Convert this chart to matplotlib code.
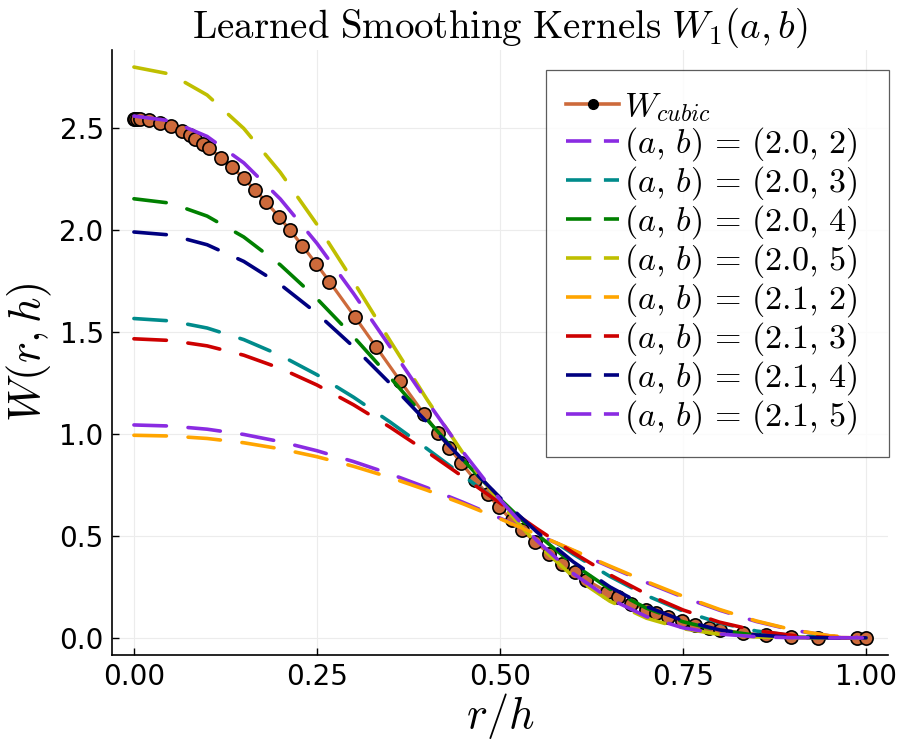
import numpy as np
import matplotlib
matplotlib.use('Agg')
import matplotlib.pyplot as plt
from matplotlib.lines import Line2D

plt.rcParams['mathtext.fontset'] = 'cm'
plt.rcParams['font.family'] = ['DejaVu Sans']

# cubic kernel samples (r/h, W)
r_cubic = [0.000, 0.002, 0.004, 0.008, 0.021, 0.036, 0.051, 0.066, 0.076, 0.084, 0.094, 0.103,
           0.119, 0.134, 0.150, 0.166, 0.181, 0.198, 0.213, 0.230, 0.249, 0.267, 0.302,
           0.331, 0.364, 0.396, 0.415, 0.431, 0.447, 0.466, 0.483, 0.499, 0.516, 0.530,
           0.548, 0.567, 0.585, 0.602, 0.617, 0.646, 0.661, 0.679, 0.700, 0.713, 0.730,
           0.748, 0.767, 0.785, 0.801, 0.832, 0.864, 0.898, 0.935, 0.987, 1.000]
w_cubic = [2.5465, 2.5464, 2.5462, 2.5455, 2.5399, 2.5274, 2.5088, 2.4843, 2.4649, 2.4477, 2.4242, 2.4011,
           2.3559, 2.3089, 2.2543, 2.1953, 2.1365, 2.0661, 2.0010, 1.9241, 1.8350, 1.7481, 1.5738,
           1.4266, 1.2590, 1.0993, 1.0071, 0.9315, 0.8583, 0.7747, 0.7037, 0.6404, 0.5774, 0.5288,
           0.4703, 0.4135, 0.3640, 0.3211, 0.2861, 0.2259, 0.1984, 0.1685, 0.1375, 0.1204, 0.1002,
           0.0815, 0.0644, 0.0506, 0.0401, 0.0241, 0.0128, 0.0054, 0.0014, 0.0000, 0.0000]

# learned kernels sampled on r/h grid
r_grid = [0.00, 0.05, 0.10, 0.15, 0.20, 0.25, 0.30, 0.35, 0.40, 0.45, 0.50,
          0.55, 0.60, 0.65, 0.70, 0.75, 0.80, 0.85, 0.90, 0.95, 1.00]
w_20_2 = [1.0445, 1.0392, 1.0237, 0.9980, 0.9626, 0.9180, 0.8649, 0.8042, 0.7370, 0.6643, 0.5875,
          0.5081, 0.4278, 0.3483, 0.2717, 0.1999, 0.1354, 0.0804, 0.0377, 0.0099, 0.0]
w_20_3 = [1.5667, 1.5550, 1.5201, 1.4633, 1.3861, 1.2909, 1.1806, 1.0586, 0.9286, 0.7947, 0.6609,
          0.5316, 0.4107, 0.3017, 0.2078, 0.1312, 0.0731, 0.0335, 0.0107, 0.0015, 0.0]
w_20_4 = [2.1542, 2.1327, 2.0693, 1.9668, 1.8297, 1.6641, 1.4772, 1.2773, 1.0725, 0.8714, 0.6816,
          0.5099, 0.3614, 0.2396, 0.1457, 0.0789, 0.0362, 0.0128, 0.0028, 0.0002, 0.0]
w_20_5 = [2.8004, 2.7656, 2.6632, 2.4993, 2.2834, 2.0281, 1.7476, 1.4570, 1.1712, 0.9034, 0.6645,
          0.4623, 0.3007, 0.1799, 0.0966, 0.0449, 0.0169, 0.0046, 0.0007, 0.0000, 0.0]
w_21_2 = [0.9939, 0.9902, 0.9782, 0.9572, 0.9274, 0.8887, 0.8416, 0.7867, 0.7249, 0.6570, 0.5843,
          0.5082, 0.4302, 0.3522, 0.2762, 0.2044, 0.1391, 0.0831, 0.0392, 0.0104, 0.0]
w_21_3 = [1.4672, 1.4590, 1.4325, 1.3868, 1.3223, 1.2405, 1.1433, 1.0333, 0.9138, 0.7885, 0.6614,
          0.5364, 0.4178, 0.3095, 0.2150, 0.1368, 0.0768, 0.0355, 0.0115, 0.0016, 0.0]
w_21_4 = [1.9912, 1.9765, 1.9287, 1.8470, 1.7335, 1.5919, 1.4278, 1.2477, 1.0592, 0.8701, 0.6882,
          0.5206, 0.3731, 0.2501, 0.1538, 0.0842, 0.0390, 0.0139, 0.0031, 0.0002, 0.0]
w_21_5 = [2.5601, 2.5364, 2.4600, 2.3305, 2.1529, 1.9354, 1.6892, 1.4272, 1.1629, 0.9095, 0.6784,
          0.4786, 0.3156, 0.1914, 0.1042, 0.0491, 0.0188, 0.0052, 0.0008, 0.0000, 0.0]

ab_a = ['2.0', '2.0', '2.0', '2.0', '2.1', '2.1', '2.1', '2.1']
ab_b = ['2', '3', '4', '5', '2', '3', '4', '5']
series = [w_20_2, w_20_3, w_20_4, w_20_5, w_21_2, w_21_3, w_21_4, w_21_5]
colors = ['#8a2be2', '#008b8b', '#008000', '#bfbf00',
          '#ffa500', '#cd0000', '#000080', '#8a2be2']
cubic_color = '#cd6a3b'

fig = plt.figure(figsize=(9, 7.5), dpi=100)
ax = fig.add_axes([0.1244, 0.1267, 0.8623, 0.8066])

ax.plot(r_cubic, w_cubic, color=cubic_color, lw=2.3, marker='o', ms=9.5,
        mfc=cubic_color, mec='black', mew=1.2, zorder=2)

handles = [Line2D([], [], color=cubic_color, lw=2.6, marker='o', ms=7,
                  mfc='black', mec='black')]
for w, c in zip(series, colors):
    ax.plot(r_grid, w, color=c, lw=2.6, ls=(0, (9, 6)),
            dash_capstyle='round', zorder=3)
    handles.append(Line2D([], [], color=c, lw=2.6, ls=(0, (7, 3.5))))

leg_labels = [r'$W_{cubic}$'] + [r'$(a,\,b)\,=\,(' + a + r',\,' + b + ')$'
                                 for a, b in zip(ab_a, ab_b)]
leg = ax.legend(handles, leg_labels, loc='upper right', fontsize=24.5,
                frameon=True, fancybox=False, edgecolor='#333333',
                handlelength=1.55, handletextpad=0.15, labelspacing=0.03,
                borderpad=0.6, borderaxespad=0, mode='expand',
                bbox_to_anchor=(0.5593, 0.0, 0.4420, 0.967))
leg.get_frame().set_linewidth(0.9)

ax.set_xlim(-0.03, 1.03)
ax.set_ylim(-0.084, 2.884)
ax.set_xticks([0.0, 0.25, 0.5, 0.75, 1.0])
ax.set_xticklabels(['0.00', '0.25', '0.50', '0.75', '1.00'])
ax.set_yticks([0.0, 0.5, 1.0, 1.5, 2.0, 2.5])
ax.set_yticklabels(['0.0', '0.5', '1.0', '1.5', '2.0', '2.5'])
ax.tick_params(direction='in', length=5, width=1, labelsize=20, pad=6)
ax.grid(True, color='#ececec', lw=0.8)
ax.set_axisbelow(True)
for s in ['top', 'right']:
    ax.spines[s].set_visible(False)
for s in ['left', 'bottom']:
    ax.spines[s].set_linewidth(1.2)

ax.set_title(r'$\mathrm{Learned\ Smoothing\ Kernels}\ W_1(a, b)$', fontsize=28, pad=8)
ax.set_xlabel(r'$r/h$', fontsize=32, labelpad=0)
ax.set_ylabel(r'$W(r, h)$', fontsize=32, labelpad=4)

fig.savefig('out.png', dpi=100)
